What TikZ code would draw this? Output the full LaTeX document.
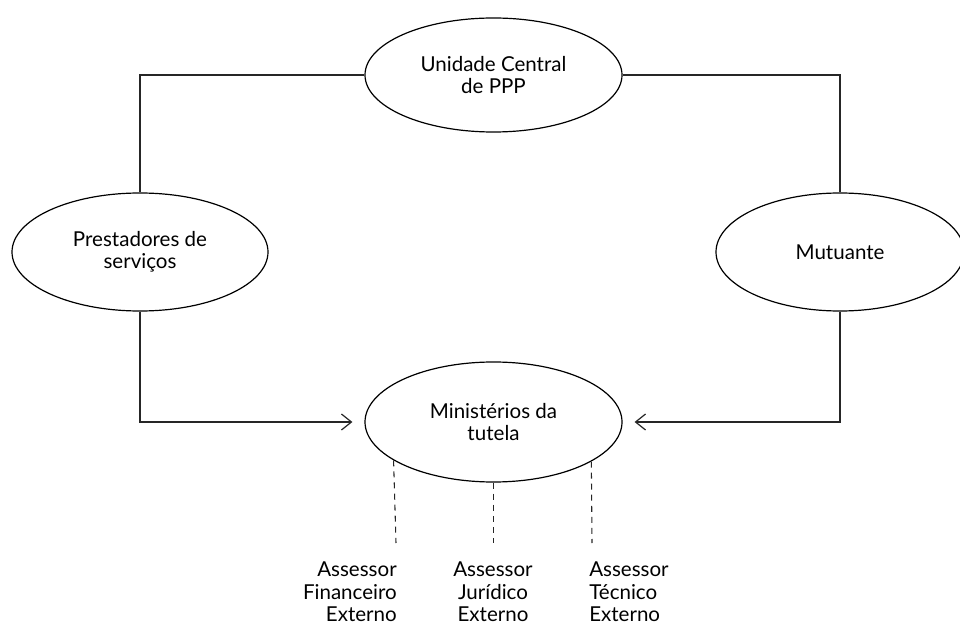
\documentclass[tikz,border=0pt]{standalone}
\usepackage{fontspec}
\setmainfont{Lato}
\usetikzlibrary{shapes.geometric,arrows.meta}
\begin{document}
\begin{tikzpicture}[x=0.75pt,y=-0.75pt,
  every node/.style={font=\fontsize{15.4}{16.6}\selectfont},
  actor/.style={draw,ellipse,inner sep=0pt,align=center,line width=0.9pt},
  link/.style={line width=0.9pt,draw=black!85},
  flow/.style={link,-{Straight Barb[length=7.5pt,width=12pt,line width=0.9pt]},shorten >=9pt},
  advisor/.style={dash pattern=on 4.5pt off 3.8pt,line width=0.8pt,draw=black!85},
  adlabel/.style={inner sep=0pt}]
\useasboundingbox (0,0) rectangle (960,627);

% the four parties (sizes in pt: 0.75pt per unit)
\node[actor,minimum width=192.75pt,minimum height=85.5pt] (ucp) at (493.5,75) {Unidade Central\\de PPP};
\node[actor,minimum width=192pt,minimum height=88.5pt] (ps) at (140,252) {Prestadores de\\servi\c{c}os};
\node[actor,minimum width=186pt,minimum height=88.5pt] (mu) at (840,252) {Mutuante};
\node[actor,minimum width=192.75pt,minimum height=90pt] (mt) at (493.5,422) {Minist\'erios da\\tutela};

% links between the parties
\draw[link] (ucp.west) -| (ps.north);
\draw[link] (ucp.east) -| (mu.north);
\draw[flow] (ps.south) |- (mt.west);
\draw[flow] (mu.south) |- (mt.east);

% external advisors
\node[adlabel,align=right,anchor=north east] (fin) at (397,562) {Assessor\\Financeiro\\Externo};
\node[adlabel,align=center,anchor=north] (jur) at (493,562) {Assessor\\Jur\'idico\\Externo};
\node[adlabel,align=left,anchor=north west] (tec) at (589,562) {Assessor\\T\'ecnico\\Externo};
\coordinate (finend) at (396,543);
\coordinate (jurend) at (493.5,543);
\coordinate (tecend) at (592,543);
\draw[advisor] (mt.201.8) -- (finend);
\draw[advisor] (mt.south) -- (jurend);
\draw[advisor] (mt.338.2) -- (tecend);
\end{tikzpicture}
\end{document}
